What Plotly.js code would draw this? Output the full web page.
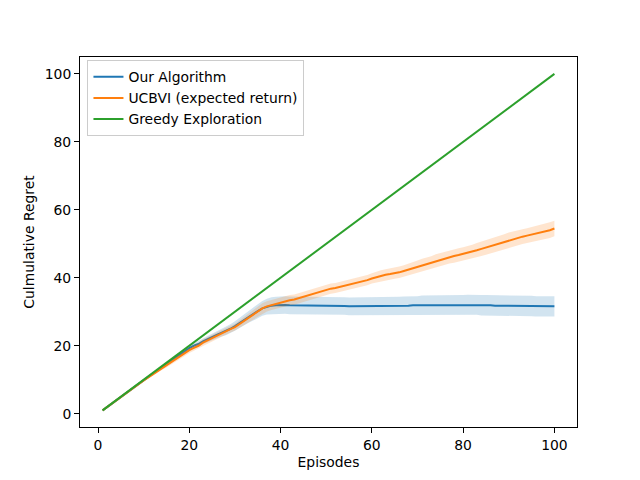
<!DOCTYPE html>
<html>
<head>
<meta charset="utf-8">
<script src="https://cdn.plot.ly/plotly-3.0.1.min.js"></script>
<style>html,body{margin:0;padding:0;background:#fff;}#chart{width:640px;height:480px;}</style>
</head>
<body>
<div id="chart"></div>
<script>
const episodes = [1,2,3,4,5,6,7,8,9,10,11,12,13,14,15,16,17,18,19,20,21,22,23,24,25,26,27,28,29,30,31,32,33,34,35,36,37,38,39,40,41,42,43,44,45,46,47,48,49,50,51,52,53,54,55,56,57,58,59,60,61,62,63,64,65,66,67,68,69,70,71,72,73,74,75,76,77,78,79,80,81,82,83,84,85,86,87,88,89,90,91,92,93,94,95,96,97,98,99,100];

const greedyRegret = [1,2,3,4,5,6,7,8,9,10,11,12,13,14,15,16,17,18,19,20,21,22,23,24,25,26,27,28,29,30,31,32,33,34,35,36,37,38,39,40,41,42,43,44,45,46,47,48,49,50,51,52,53,54,55,56,57,58,59,60,61,62,63,64,65,66,67,68,69,70,71,72,73,74,75,76,77,78,79,80,81,82,83,84,85,86,87,88,89,90,91,92,93,94,95,96,97,98,99,100];

const ourMean = [1,2,3,4,5,6,7,7.9,8.9,9.9,10.8,11.8,12.7,13.7,14.6,15.6,16.5,17.4,18.4,19.3,
  20.0,20.5,21.3,22.0,22.6,23.2,23.8,24.3,25.0,25.8,26.7,27.7,28.5,29.3,30.2,31.0,31.5,31.8,31.9,32.0,
  32.0,31.9,31.9,31.9,31.8,31.8,31.8,31.9,31.8,31.8,31.7,31.7,31.7,31.7,31.6,31.6,31.6,31.7,31.7,31.7,
  31.7,31.6,31.6,31.7,31.7,31.7,31.8,31.8,31.9,31.9,32.0,32.0,31.9,31.9,32.0,32.0,32.0,32.0,32.0,32.0,
  32.1,32.0,32.0,31.9,31.9,31.9,31.8,31.8,31.8,31.8,31.8,31.7,31.7,31.7,31.7,31.6,31.6,31.6,31.6,31.6];

const ourStd = [0,0,0,0,0,0,0.1,0.1,0.1,0.2,0.2,0.2,0.2,0.3,0.3,0.4,0.4,0.5,0.5,0.6,
  0.7,0.8,0.8,0.9,1.0,1.1,1.1,1.2,1.3,1.4,1.5,1.6,1.7,1.9,2.0,2.2,2.3,2.5,2.5,2.6,
  2.6,2.6,2.6,2.6,2.6,2.6,2.6,2.6,2.6,2.6,2.6,2.6,2.6,2.6,2.6,2.6,2.6,2.6,2.6,2.6,
  2.6,2.6,2.6,2.6,2.7,2.7,2.7,2.7,2.7,2.7,2.8,2.8,2.8,2.8,2.8,2.8,2.9,2.9,2.9,2.9,
  2.9,2.9,2.9,3.0,3.0,3.0,3.0,3.0,3.0,3.0,3.0,3.0,3.0,3.0,3.0,3.0,3.0,3.0,3.0,3.0];

const ucbviMean = [1,2,3,4,5,6,7,7.9,8.8,9.8,10.7,11.6,12.5,13.4,14.2,15.1,16.0,16.9,17.8,18.7,
  19.4,20.0,20.9,21.6,22.3,23.0,23.6,24.2,24.9,25.5,26.4,27.3,28.3,29.2,30.0,31.0,31.6,32.0,32.4,32.8,
  33.1,33.4,33.6,34.0,34.5,35.0,35.4,35.7,36.1,36.4,36.8,37.0,37.3,37.6,37.9,38.2,38.6,38.9,39.3,39.8,
  40.2,40.6,40.9,41.1,41.3,41.6,42.0,42.4,42.8,43.3,43.8,44.1,44.5,45.0,45.4,45.7,46.1,46.4,46.7,47.0,
  47.3,47.7,48.1,48.5,48.9,49.3,49.7,50.1,50.6,51.1,51.5,51.8,52.1,52.4,52.7,53.0,53.3,53.6,54.0,54.5];

const ucbviStd = [0,0,0,0,0.1,0.1,0.1,0.2,0.2,0.3,0.3,0.4,0.4,0.5,0.6,0.6,0.7,0.7,0.8,0.8,
  0.9,0.9,1.0,1.0,1.0,1.0,1.0,1.0,1.0,1.0,1.1,1.2,1.3,1.4,1.5,1.5,1.5,1.5,1.5,1.5,
  1.5,1.5,1.5,1.5,1.5,1.5,1.5,1.5,1.5,1.5,1.5,1.5,1.5,1.5,1.5,1.5,1.5,1.5,1.5,1.5,
  1.6,1.6,1.6,1.6,1.6,1.7,1.7,1.7,1.7,1.8,1.8,1.8,1.8,1.9,1.9,1.9,1.9,2.0,2.0,2.0,
  2.0,2.0,2.1,2.1,2.1,2.1,2.1,2.2,2.2,2.2,2.2,2.2,2.2,2.2,2.2,2.2,2.3,2.3,2.3,2.3];

const seriesNames = ['Our Algorithm', 'UCBVI (expected return)', 'Greedy Exploration'];
const xTicks = [0, 20, 40, 60, 80, 100];
const yTicks = [0, 20, 40, 60, 80, 100];

const blue = '#1f77b4', orange = '#ff7f0e', green = '#2ca02c';
const lower = (m, s) => m.map((v, i) => v - s[i]);
const upper = (m, s) => m.map((v, i) => v + s[i]);

const traces = [
  {x: episodes, y: lower(ourMean, ourStd), mode: 'lines', line: {width: 0, color: blue}, showlegend: false, hoverinfo: 'skip'},
  {x: episodes, y: upper(ourMean, ourStd), mode: 'lines', line: {width: 0, color: blue}, fill: 'tonexty', fillcolor: 'rgba(31,119,180,0.2)', showlegend: false, hoverinfo: 'skip'},
  {x: episodes, y: ourMean, mode: 'lines', name: seriesNames[0], line: {color: blue, width: 2}},
  {x: episodes, y: lower(ucbviMean, ucbviStd), mode: 'lines', line: {width: 0, color: orange}, showlegend: false, hoverinfo: 'skip'},
  {x: episodes, y: upper(ucbviMean, ucbviStd), mode: 'lines', line: {width: 0, color: orange}, fill: 'tonexty', fillcolor: 'rgba(255,127,14,0.2)', showlegend: false, hoverinfo: 'skip'},
  {x: episodes, y: ucbviMean, mode: 'lines', name: seriesNames[1], line: {color: orange, width: 2}},
  {x: episodes, y: greedyRegret, mode: 'lines', name: seriesNames[2], line: {color: green, width: 2}}
];

const axisCommon = {
  showline: true, mirror: true, linecolor: '#000', linewidth: 1,
  ticks: 'outside', ticklen: 5, tickwidth: 1, tickcolor: '#000',
  showgrid: false, zeroline: false,
  tickfont: {family: 'DejaVu Sans', size: 13.9, color: '#000'}
};

const layout = {
  width: 640, height: 480,
  margin: {l: 80, r: 63, t: 57, b: 53, pad: 0},
  paper_bgcolor: '#fff', plot_bgcolor: '#fff',
  font: {family: 'DejaVu Sans', size: 13.9, color: '#000'},
  showlegend: true,
  legend: {
    x: 0.015, y: 0.991, xanchor: 'left', yanchor: 'top',
    traceorder: 'normal',
    bgcolor: 'rgba(255,255,255,0.8)', bordercolor: '#cccccc', borderwidth: 1,
    font: {family: 'DejaVu Sans', size: 13.9, color: '#000'},
    itemwidth: 30, tracegroupgap: 0
  },
  xaxis: Object.assign({}, axisCommon, {
    range: [-3.95, 104.95], tickvals: xTicks, ticktext: xTicks.map(String),
    title: {text: 'Episodes', font: {family: 'DejaVu Sans', size: 13.9, color: '#000'}, standoff: 5}
  }),
  yaxis: Object.assign({}, axisCommon, {
    range: [-3.9, 104.95], tickvals: yTicks, ticktext: yTicks.map(String),
    title: {text: 'Culmulative Regret', font: {family: 'DejaVu Sans', size: 13.9, color: '#000'}, standoff: 6}
  })
};

Plotly.newPlot('chart', traces, layout, {staticPlot: true, displayModeBar: false});
</script>
</body>
</html>
